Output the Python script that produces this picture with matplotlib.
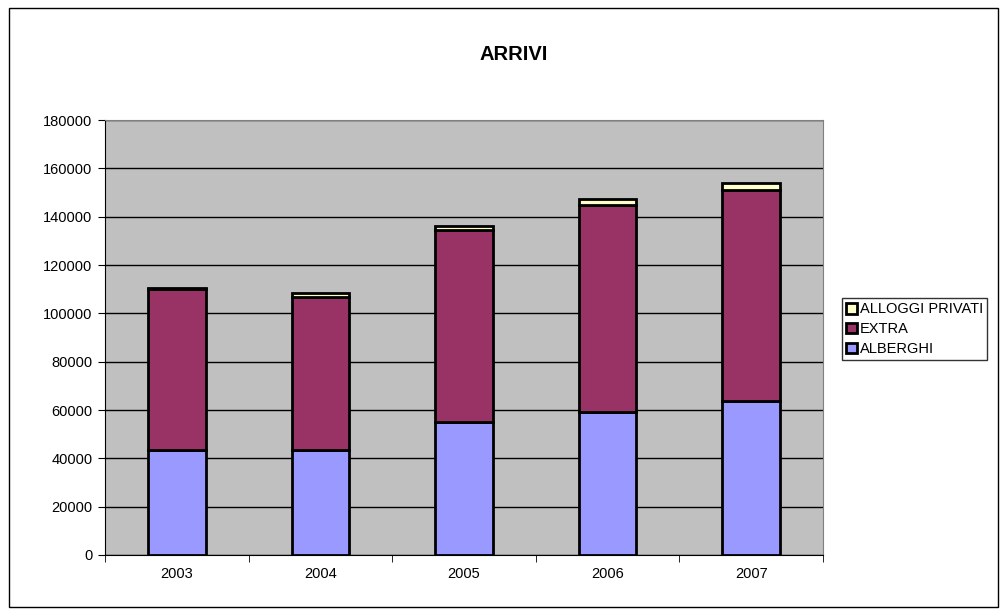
import numpy as np
import matplotlib.pyplot as plt
from matplotlib.patches import Rectangle

plt.rcParams['font.family'] = ['Liberation Sans', 'DejaVu Sans']

years = ['2003', '2004', '2005', '2006', '2007']
alberghi = [43500, 43300, 55200, 59300, 63800]
extra = [66500, 63400, 79200, 85500, 87200]
alloggi = [300, 1600, 1900, 2400, 2800]

fig = plt.figure(figsize=(10.07, 6.15), dpi=100)
fig.patch.set_facecolor('white')
fig.patches.append(Rectangle((0.009, 0.013), 0.982, 0.974, transform=fig.transFigure,
                             fill=False, edgecolor='black', linewidth=1))

ax = fig.add_axes([105 / 1007, 1 - 555 / 615, 718 / 1007, 435 / 615])
ax.set_facecolor('#C0C0C0')

x = np.arange(len(years))
w = 0.4
b1 = ax.bar(x, alberghi, w, color='#9999FF', edgecolor='black', linewidth=2, label='ALBERGHI', zorder=3)
b2 = ax.bar(x, extra, w, bottom=alberghi, color='#993366', edgecolor='black', linewidth=2, label='EXTRA', zorder=3)
bottom2 = np.array(alberghi) + np.array(extra)
b3 = ax.bar(x, alloggi, w, bottom=bottom2, color='#FFFFCC', edgecolor='black', linewidth=2,
            label='ALLOGGI PRIVATI', zorder=3)

ax.set_ylim(0, 180000)
ax.set_xlim(-0.5, len(years) - 0.5)
ax.set_yticks(np.arange(0, 180001, 20000))
ax.yaxis.grid(True, color='black', linewidth=1, zorder=1)
ax.set_xticks(x)
ax.set_xticklabels(years)
ax.set_xticks(np.arange(-0.5, len(years), 1), minor=True)
ax.tick_params(axis='x', which='major', length=0, pad=9, labelsize=10.5)
ax.tick_params(axis='x', which='minor', length=5, direction='out')
ax.tick_params(axis='y', length=5, direction='out', labelsize=10.5, pad=4)
for s in ['top', 'right']:
    ax.spines[s].set_color('#808080')
ax.spines['left'].set_color('black')
ax.spines['bottom'].set_color('black')

fig.text(514 / 1007, 1 - 55 / 615, 'ARRIVI', ha='center', va='center', fontsize=14.5, fontweight='bold')

leg = fig.legend(handles=[b3, b2, b1], loc='upper left', bbox_to_anchor=(842 / 1007, 1 - 298 / 615),
                 frameon=True, fancybox=False, edgecolor='black', fontsize=10.5,
                 handlelength=0.75, handleheight=0.75, handletextpad=0.15, borderpad=0.3,
                 labelspacing=0.4, borderaxespad=0)
leg.get_frame().set_linewidth(1)

fig.savefig('out.png', dpi=100)
